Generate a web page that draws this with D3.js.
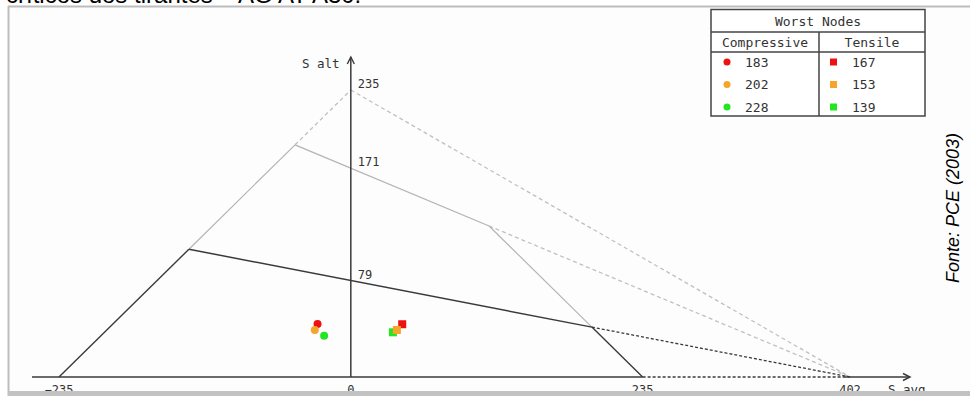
<!DOCTYPE html>
<html>
<head>
<meta charset="utf-8">
<script src="https://cdn.jsdelivr.net/npm/d3@7"></script>
<style>
  html, body { margin: 0; padding: 0; background: #fff; }
  svg { display: block; }
</style>
</head>
<body>
<svg id="chart" width="970" height="396"></svg>
<script>
// Haigh/Goodman fatigue diagram parameters (MPa)
const yieldStress = 235;
const ultimateStress = 402;
const enduranceLimits = [171, 79];

// Axis tick labels
const xTicks = [-235, 0, 235, 402];
const yTicks = [235, 171, 79];

// Worst nodes
const nodeColors = ["#ee1111", "#f5a52a", "#22e622"];
const compressiveIds = [183, 202, 228];
const compressiveAvg = [-26.8, -29.0, -21.5];
const compressiveAlt = [43.4, 38.5, 33.8];
const tensileIds = [167, 153, 139];
const tensileAvg = [41.4, 37.1, 33.9];
const tensileAlt = [43.2, 38.5, 36.6];

const svg = d3.select("#chart");
const W = 970, H = 396;

const x = d3.scaleLinear().domain([-235, 402]).range([59, 850]);
const y = d3.scaleLinear().domain([0, 235]).range([377, 90]);

const dark = "#3a3a3a", light = "#b4b4b4", lightDash = "#c0c0c0";
const mono = "'DejaVu Sans Mono', monospace";

// caption text above the frame (partly hidden)
svg.append("text").attr("x", 6).attr("y", 3)
  .attr("font-family", "'Liberation Sans', Arial, sans-serif")
  .attr("font-size", 24).attr("fill", "#000")
  .text("críticos dos tirantes – AG AT A30.");

// plot frame
svg.append("rect").attr("x", 8).attr("y", 6).attr("width", W - 8).attr("height", H - 6)
  .attr("fill", "#fdfdfd");
svg.append("line").attr("x1", 8).attr("x2", W).attr("y1", 6.5).attr("y2", 6.5)
  .attr("stroke", "#bdbdbd").attr("stroke-width", 2);
svg.append("line").attr("x1", 8.5).attr("x2", 8.5).attr("y1", 6).attr("y2", H)
  .attr("stroke", "#bdbdbd").attr("stroke-width", 2);

const g = svg.append("g");
const seg = (p, q, color, width, dash) => {
  const l = g.append("line")
    .attr("x1", x(p[0])).attr("y1", y(p[1]))
    .attr("x2", x(q[0])).attr("y2", y(q[1]))
    .attr("stroke", color).attr("stroke-width", width);
  if (dash) l.attr("stroke-dasharray", dash);
  return l;
};

// intersection of Goodman line (0,Se)-(Su,0) with compressive yield line alt = avg + Sy
const leftHit = se => {
  const k = se / ultimateStress;
  const s = (se - yieldStress) / (1 + k);
  return [s, s + yieldStress];
};
// intersection with tensile yield line alt = Sy - avg
const rightHit = se => {
  const k = se / ultimateStress;
  const s = (yieldStress - se) / (1 - k);
  return [s, yieldStress - s];
};

const [seHigh, seLow] = enduranceLimits;
const LH = leftHit(seHigh), LL = leftHit(seLow);
const RH = rightHit(seHigh), RL = rightHit(seLow);
const apex = [0, yieldStress], uts = [ultimateStress, 0];

// outer reference lines
seg(apex, uts, lightDash, 1.3, "4,3");
seg(LH, apex, lightDash, 1.3, "4,3");

// compressive yield line
seg([-yieldStress, 0], LL, dark, 1.4);
seg(LL, LH, light, 1.2);

// upper endurance line
seg(LH, RH, light, 1.3);
seg(RH, uts, lightDash, 1.3, "4,3");

// tensile yield line
seg(RH, RL, light, 1.2);
seg(RL, [yieldStress, 0], dark, 1.4);

// lower endurance line
seg(LL, RL, dark, 1.5);
seg(RL, uts, dark, 1.3, "3,2");

// axes
const axisY0 = y(0);
g.append("line").attr("x1", 32).attr("x2", x(yieldStress))
  .attr("y1", axisY0).attr("y2", axisY0).attr("stroke", dark).attr("stroke-width", 1.4);
g.append("line").attr("x1", x(yieldStress)).attr("x2", 845)
  .attr("y1", axisY0).attr("y2", axisY0).attr("stroke", dark).attr("stroke-width", 1.3)
  .attr("stroke-dasharray", "3,2");
g.append("line").attr("x1", 845).attr("x2", 910)
  .attr("y1", axisY0).attr("y2", axisY0).attr("stroke", dark).attr("stroke-width", 1.3);
g.append("path").attr("d", `M903,${axisY0 - 3.5} L910,${axisY0} L903,${axisY0 + 3.5}`)
  .attr("fill", "none").attr("stroke", dark).attr("stroke-width", 1.4);

const ax0 = x(0);
g.append("line").attr("x1", ax0).attr("x2", ax0).attr("y1", axisY0).attr("y2", 57)
  .attr("stroke", dark).attr("stroke-width", 1.5);
g.append("path").attr("d", `M${ax0 - 3.5},64 L${ax0},57 L${ax0 + 3.5},64`)
  .attr("fill", "none").attr("stroke", dark).attr("stroke-width", 1.4);

// y tick labels
g.selectAll(".ytl").data(yTicks).join("text")
  .attr("x", ax0 + 7).attr("y", d => y(d) - 2)
  .attr("font-family", mono).attr("font-size", 12).attr("fill", "#333")
  .text(d => d);
g.append("text").attr("x", 302).attr("y", 68)
  .attr("font-family", mono).attr("font-size", 12.5).attr("fill", "#333").text("S alt");

// x tick labels
g.selectAll(".xtl").data(xTicks).join("text")
  .attr("x", d => x(d)).attr("y", 394).attr("text-anchor", "middle")
  .attr("font-family", mono).attr("font-size", 12).attr("fill", "#333")
  .text(d => d < 0 ? "−" + Math.abs(d) : d);
g.append("text").attr("x", 888).attr("y", 394)
  .attr("font-family", mono).attr("font-size", 12.5).attr("fill", "#333").text("S avg");

// nodes: red, green, then orange on top
const order = [0, 2, 1];
g.selectAll(".cn").data(order).join("circle")
  .attr("cx", i => x(compressiveAvg[i])).attr("cy", i => y(compressiveAlt[i]))
  .attr("r", 4).attr("fill", i => nodeColors[i]);
g.selectAll(".tn").data(order).join("rect")
  .attr("x", i => x(tensileAvg[i]) - 4).attr("y", i => y(tensileAlt[i]) - 4)
  .attr("width", 8).attr("height", 8).attr("fill", i => nodeColors[i]);

// bottom band
svg.append("rect").attr("x", 8).attr("y", 391).attr("width", W - 8).attr("height", 5)
  .attr("fill", "#c2c2c2");

// legend table
const lg = svg.append("g");
const L = { x0: 711, x1: 925, xm: 819, y0: 9.5, y1: 32, y2: 52, y3: 116 };
lg.append("rect").attr("x", L.x0).attr("y", L.y0).attr("width", L.x1 - L.x0).attr("height", L.y3 - L.y0)
  .attr("fill", "#fff").attr("stroke", "#444").attr("stroke-width", 1.5);
lg.append("line").attr("x1", L.x0).attr("x2", L.x1).attr("y1", L.y1).attr("y2", L.y1)
  .attr("stroke", "#444").attr("stroke-width", 1.5);
lg.append("line").attr("x1", L.x0).attr("x2", L.x1).attr("y1", L.y2).attr("y2", L.y2)
  .attr("stroke", "#444").attr("stroke-width", 1.5);
lg.append("line").attr("x1", L.xm).attr("x2", L.xm).attr("y1", L.y1).attr("y2", L.y3)
  .attr("stroke", "#444").attr("stroke-width", 1.5);
lg.append("text").attr("x", (L.x0 + L.x1) / 2).attr("y", 26).attr("text-anchor", "middle")
  .attr("font-family", mono).attr("font-size", 13).attr("fill", "#333").text("Worst Nodes");
lg.append("text").attr("x", 765).attr("y", 47).attr("text-anchor", "middle")
  .attr("font-family", mono).attr("font-size", 13).attr("fill", "#333").text("Compressive");
lg.append("text").attr("x", 872).attr("y", 47).attr("text-anchor", "middle")
  .attr("font-family", mono).attr("font-size", 13).attr("fill", "#333").text("Tensile");

const rowY = d3.scaleLinear().domain([0, 2]).range([62, 107]);
[0, 1, 2].forEach(i => {
  lg.append("circle").attr("cx", 727).attr("cy", rowY(i)).attr("r", 3.5).attr("fill", nodeColors[i]);
  lg.append("text").attr("x", 745).attr("y", rowY(i) + 4.5)
    .attr("font-family", mono).attr("font-size", 13).attr("fill", "#333").text(compressiveIds[i]);
  lg.append("rect").attr("x", 830).attr("y", rowY(i) - 3.5).attr("width", 7).attr("height", 7)
    .attr("fill", nodeColors[i]);
  lg.append("text").attr("x", 852).attr("y", rowY(i) + 4.5)
    .attr("font-family", mono).attr("font-size", 13).attr("fill", "#333").text(tensileIds[i]);
});

// source note
svg.append("text").attr("transform", "translate(959,208) rotate(-90)")
  .attr("text-anchor", "middle")
  .attr("font-family", "'Liberation Sans', Arial, sans-serif")
  .attr("font-style", "italic").attr("font-size", 18).attr("fill", "#000")
  .text("Fonte: PCE (2003)");
</script>
</body>
</html>
